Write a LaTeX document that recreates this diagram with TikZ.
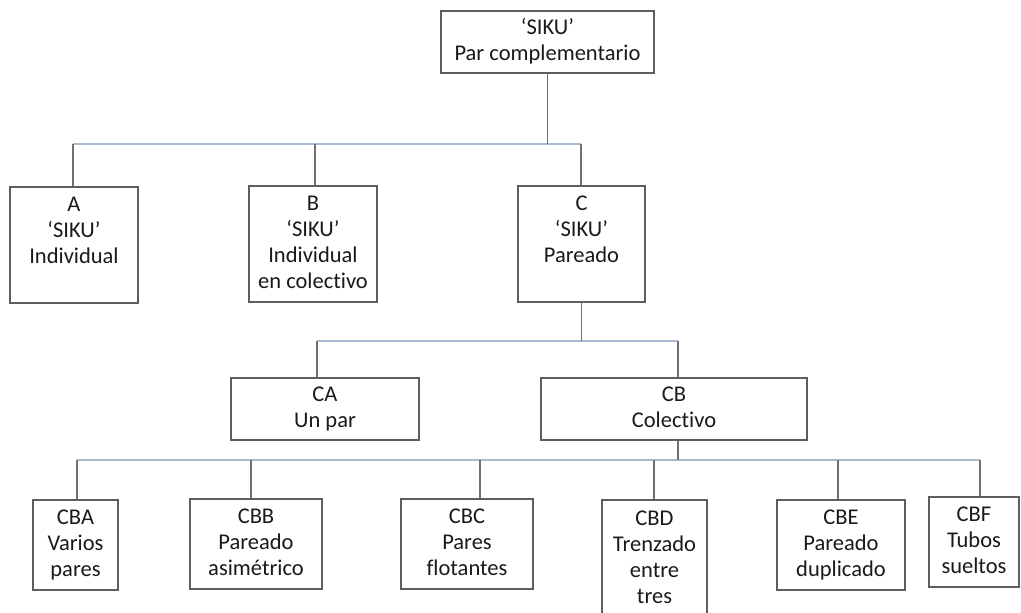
\documentclass[tikz,border=0pt]{standalone}
\usepackage{fontspec}
\setmainfont{Carlito}[Ligatures=NoCommon]
\definecolor{boxc}{HTML}{5E5E5E}
\definecolor{hc}{HTML}{A9B9CF}
\definecolor{vc}{HTML}{707070}
\definecolor{txtc}{HTML}{1A1A1A}
\begin{document}
\begin{tikzpicture}[x=1pt,y=-1pt,
  box/.style={draw=boxc, line width=1.4pt, inner sep=0pt, align=center,
              font=\fontsize{22.5}{26}\selectfont, text=txtc},
  hline/.style={draw=hc, line width=1.3pt},
  vline/.style={draw=vc, line width=1.4pt}]
\useasboundingbox[fill=white] (0,0) rectangle (1021,613);

% boxes
\node[box, minimum width=213, minimum height=62] (top) at (547.5,42) {\strut ‘SIKU’\\\strut Par complementario};
\node[box, minimum width=128, minimum height=116] (A) at (74,245) {\strut A\\\strut ‘SIKU’\\\strut Individual\\\strut};
\node[box, minimum width=128, minimum height=116] (B) at (313,244) {\strut B\\\strut ‘SIKU’\\\strut Individual\\\strut en colectivo};
\node[box, minimum width=127, minimum height=116] (C) at (581.5,244) {\strut C\\\strut ‘SIKU’\\\strut Pareado\\\strut};
\node[box, minimum width=188, minimum height=62] (CA) at (325,409) {\strut CA\\\strut Un par};
\node[box, minimum width=266, minimum height=62] (CB) at (674,409) {\strut CB\\\strut Colectivo};
\node[box, minimum width=85, minimum height=90] (CBA) at (75.5,545) {\strut CBA\\\strut Varios\\\strut pares};
\node[box, minimum width=132, minimum height=90] (CBB) at (256,544) {\strut CBB\\\strut Pareado\\\strut asimétrico};
\node[box, minimum width=132, minimum height=90] (CBC) at (467,544) {\strut CBC\\\strut Pares\\\strut flotantes};
\node[box, minimum width=105, minimum height=119] (CBD) at (654.5,559.5) {\strut CBD\\\strut Trenzado\\\strut entre\\\strut tres};
\node[box, minimum width=128, minimum height=90] (CBE) at (841,545) {\strut CBE\\\strut Pareado\\\strut duplicado};
\node[box, minimum width=90, minimum height=90] (CBF) at (974,542) {\strut CBF\\\strut Tubos\\\strut sueltos};

% junction coordinates
\coordinate (hA) at (73,144);
\coordinate (hB) at (315,144);
\coordinate (hC) at (581,144);
\coordinate (hT) at (547.5,144);
\coordinate (hCA) at (317,341);
\coordinate (hCB) at (678,341);
\coordinate (hCm) at (581.5,341);
\coordinate (k1) at (77,460);
\coordinate (k2) at (251,460);
\coordinate (k3) at (480,460);
\coordinate (k4) at (654,460);
\coordinate (k5) at (838,460);
\coordinate (k6) at (980,460);
\coordinate (kCB) at (678,460);

% level 1
\draw[hline] (hA) -- (hC);
\draw[vline] (top.south) -- (hT);
\draw[vline] (hA) -- (hA |- A.north);
\draw[vline] (hB) -- (hB |- B.north);
\draw[vline] (hC) -- (hC |- C.north);

% level 2
\draw[hline] (hCA) -- (hCB);
\draw[vline] (C.south) -- (hCm);
\draw[vline] (hCA) -- (hCA |- CA.north);
\draw[vline] (hCB) -- (hCB |- CB.north);

% level 3
\draw[hline] (k1) -- (k6);
\draw[vline] (kCB |- CB.south) -- (kCB);
\draw[vline] (k1) -- (k1 |- CBA.north);
\draw[vline] (k2) -- (k2 |- CBB.north);
\draw[vline] (k3) -- (k3 |- CBC.north);
\draw[vline] (k4) -- (k4 |- CBD.north);
\draw[vline] (k5) -- (k5 |- CBE.north);
\draw[vline] (k6) -- (k6 |- CBF.north);
\end{tikzpicture}
\end{document}
